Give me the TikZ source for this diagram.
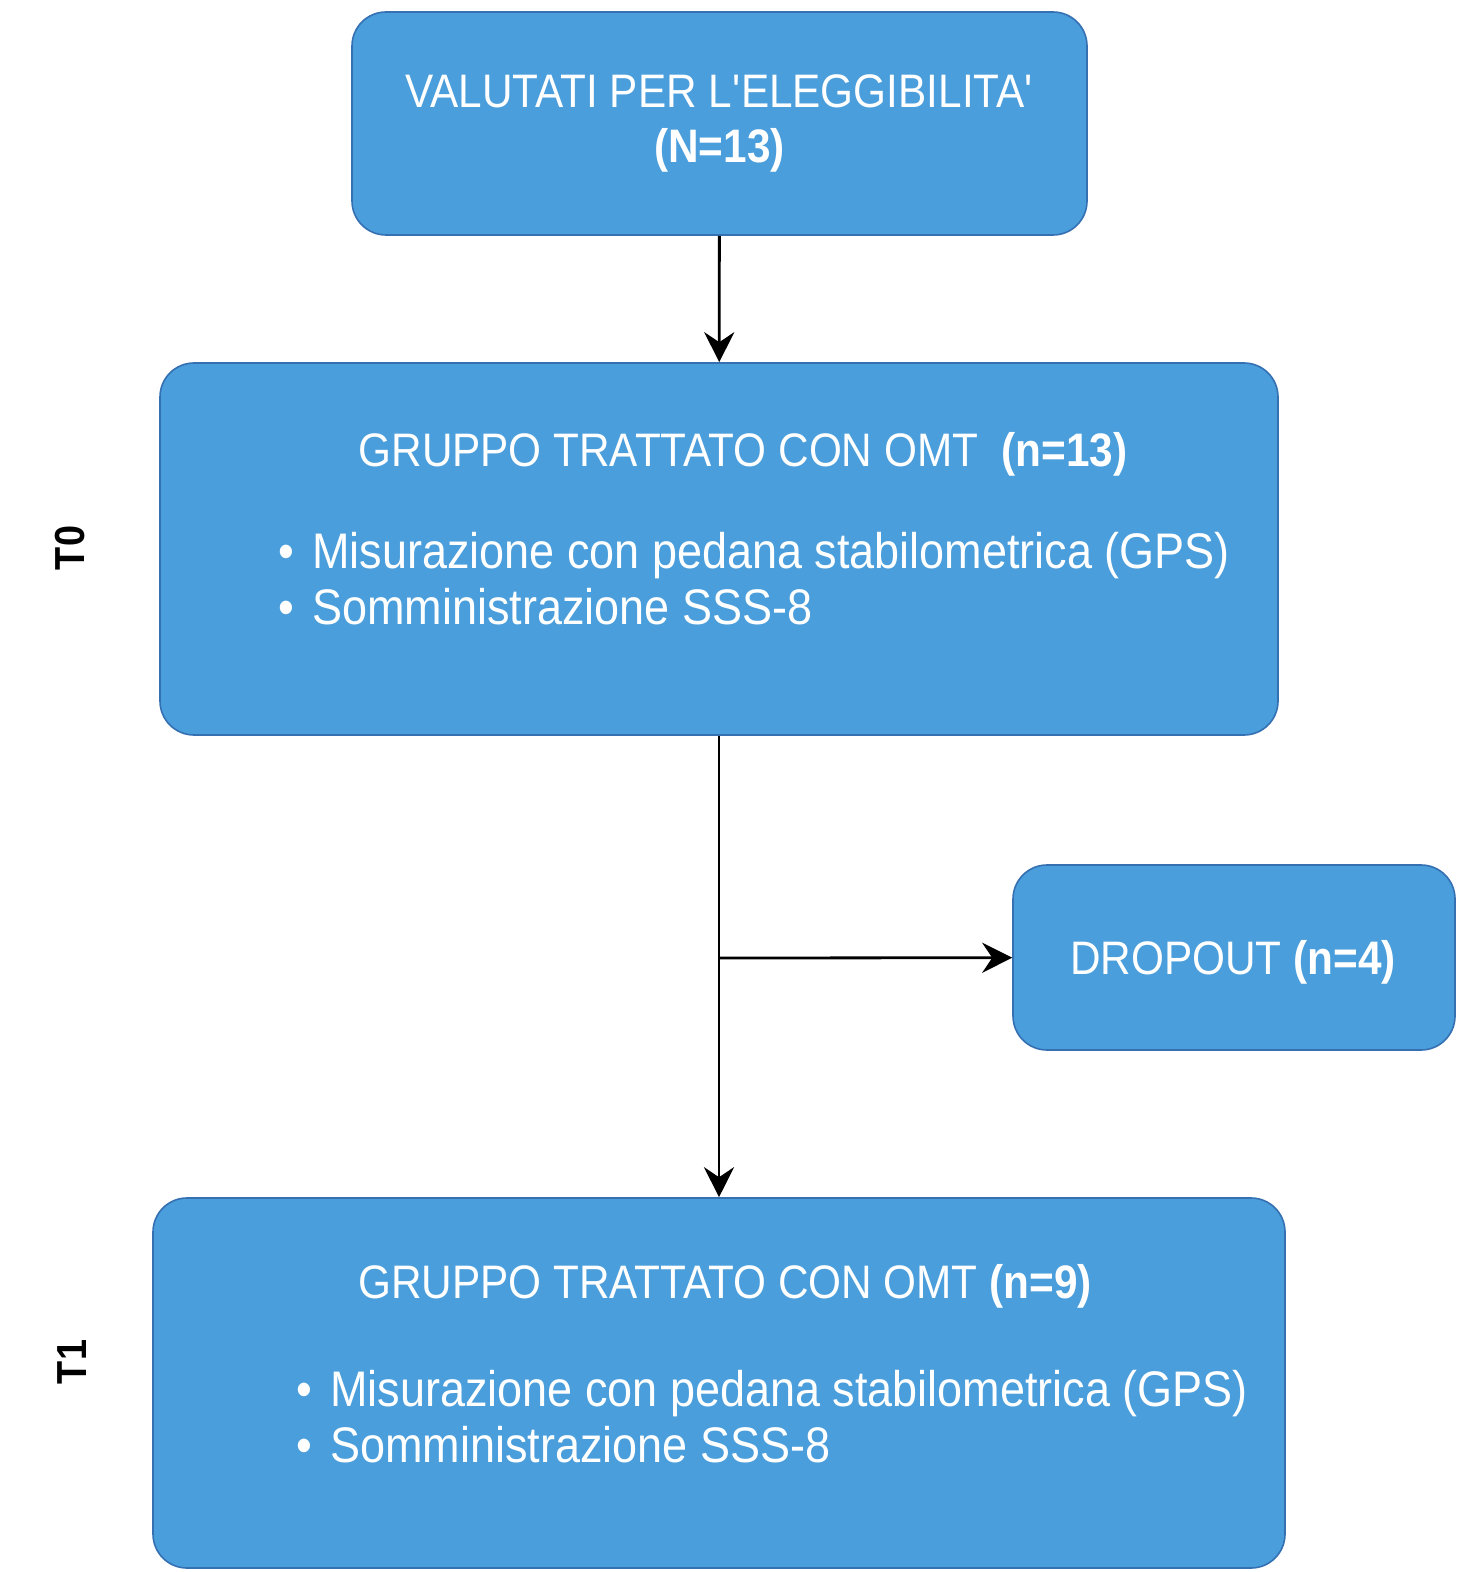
\documentclass[tikz,border=0pt]{standalone}
\usepackage{fontspec}
\setmainfont{Liberation Sans}[FakeStretch=0.9]
\usetikzlibrary{arrows.meta}
\definecolor{boxblue}{RGB}{74,158,220}
\definecolor{boxedge}{RGB}{52,112,178}
\begin{document}
\begin{tikzpicture}[x=0.5pt,y=-0.5pt,
    box/.style={draw=boxedge,fill=boxblue,rounded corners=17pt,line width=0.8pt,
      inner sep=0pt,text=white,align=center,font=\fontsize{23.5}{27.5}\selectfont},
    boxtitle/.style={text=white,font=\fontsize{23.5}{27.5}\selectfont},
    bullets/.style={text=white,align=left,anchor=west,font=\fontsize{25}{28}\selectfont},
    tlabel/.style={rotate=90,font=\bfseries\fontsize{21}{24}\selectfont},
    arr/.style={-{Stealth[length=15pt,width=15pt,inset=5pt]},line width=1.4pt}]
\useasboundingbox (0,0) rectangle (1463,1572);
\node[box,minimum width=367.5pt,minimum height=111.5pt] (valutati) at (719.5,123.5)
  {\rule{0pt}{4pt}VALUTATI PER L\textquotesingle ELEGGIBILITA\textquotesingle\\\textbf{(N=13)}};
\node[box,minimum width=559pt,minimum height=186pt] (gruppoA) at (719,549) {};
\node[box,minimum width=221pt,minimum height=92.5pt] (dropout) at (1234,957.5) {};
\node[boxtitle] (dropouttxt) at (1233,962) {DROPOUT \textbf{(n=4)}};
\node[box,minimum width=566pt,minimum height=185pt] (gruppoB) at (719,1383) {};
% contenuto dei gruppi
\node[boxtitle] (titoloA) at (743,454) {GRUPPO TRATTATO CON OMT\ \ \textbf{(n=13)}};
\node[bullets] (listaA) at (271,579)
  {\makebox[17pt][l]{•}Misurazione con pedana stabilometrica (GPS)\\
   \makebox[17pt][l]{•}Somministrazione SSS-8};
\node[boxtitle] (titoloB) at (725,1286) {GRUPPO TRATTATO CON OMT \textbf{(n=9)}};
\node[bullets] (listaB) at (289,1417)
  {\makebox[17pt][l]{•}Misurazione con pedana stabilometrica (GPS)\\
   \makebox[17pt][l]{•}Somministrazione SSS-8};
\node[tlabel] (tzero) at (70,548) {T0};
\node[tlabel] (tuno) at (72,1362) {T1};
\coordinate (split) at (719,958);
\draw[arr] (valutati) -- (gruppoA);
\draw[arr] (gruppoA) -- (gruppoB);
\draw[arr] (split) -- (dropout);
\end{tikzpicture}
\end{document}
